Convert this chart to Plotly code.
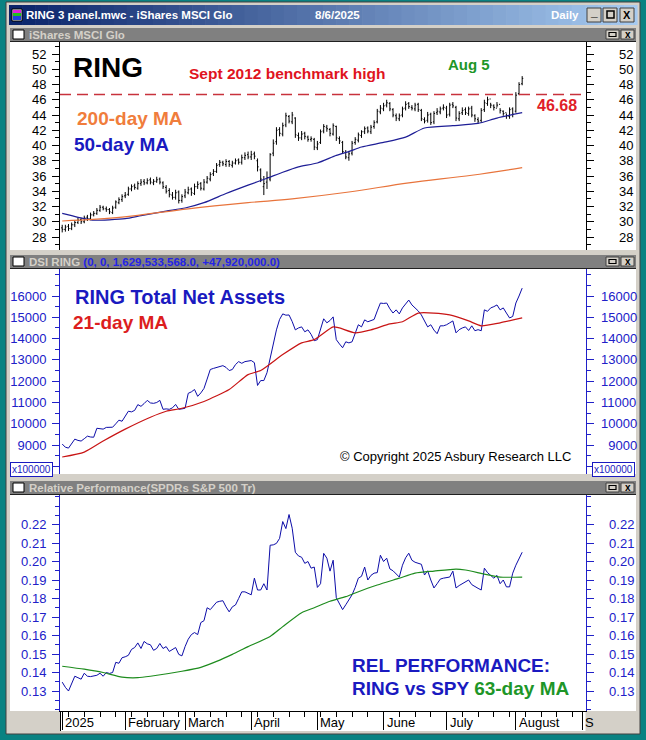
import plotly.graph_objects as go

W, H = 646, 740
SANS = "Liberation Sans, Arial, sans-serif"
NARROW = "Liberation Sans Narrow, Liberation Sans, Arial, sans-serif"

# ---------------- data ----------------
# x axis is the trading-day number, 0 = Jan 2 2025, 146 = Aug 5 2025
month_ticks = [0, 20, 39, 60, 81, 102, 122, 144, 165]
month_labels = ["2025", "February", "March", "April", "May", "June", "July", "August", "S"]

opens = [
    29.2, 29.0, 29.4, 29.1, 29.6, 29.9, 30.3, 30.0, 30.6, 30.4, 30.9, 31.1, 31.5, 31.9, 31.7, 31.6, 31.2, 31.9, 32.5, 32.9,
    33.4, 33.6, 34.3, 34.7, 34.4, 35.0, 35.3, 35.1, 35.5, 35.1, 35.3, 35.6, 35.1, 34.5, 34.1, 33.5, 33.2, 33.9, 32.8,
    33.4, 33.8, 34.3, 33.7, 34.6, 35.0, 34.3, 35.2, 35.6, 36.3, 36.6, 37.5, 37.8, 37.5, 37.9, 37.4, 37.7, 38.1, 37.8, 38.4, 38.8,
    38.5, 38.9, 38.0, 36.8, 34.6, 35.2, 35.6, 39.0, 40.5, 42.1, 41.5, 42.7, 43.8, 43.1, 43.6, 41.3, 41.0, 41.6, 41.1, 40.8, 40.8,
    39.7, 40.4, 41.9, 42.4, 42.1, 41.5, 42.5, 40.9, 40.4, 39.1, 38.4, 39.0, 40.4, 40.7, 41.3, 41.8, 42.3, 41.8, 42.5, 43.1, 44.4,
    44.8, 45.3, 45.5, 44.7, 43.9, 43.5, 44.0, 44.9, 45.5, 45.0, 44.8, 45.4, 44.6, 43.4, 43.3, 44.1, 43.1, 44.3, 44.4, 44.9,
    44.9, 44.1, 45.4, 45.0, 43.5, 44.3, 44.7, 44.2, 44.9, 43.9, 43.4, 43.3, 44.7, 45.5, 46.1, 45.2, 44.9, 45.4, 44.5, 44.3, 43.8, 44.8,
    44.5, 46.8, 48.1,
]
highs = [
    29.6, 29.6, 29.7, 29.9, 30.2, 30.5, 30.5, 30.8, 30.9, 31.2, 31.4, 31.8, 32.2, 32.1, 32.0, 31.8, 32.1, 32.8, 33.2, 33.6,
    33.9, 34.6, 34.9, 35.0, 35.3, 35.6, 35.6, 35.7, 35.8, 35.6, 35.9, 35.8, 35.3, 34.8, 34.4, 33.9, 34.2, 34.1, 33.6,
    34.3, 34.6, 34.5, 35.0, 35.3, 35.2, 35.6, 36.0, 36.5, 36.9, 37.7, 38.1, 38.0, 38.2, 38.1, 38.0, 38.3, 38.3, 38.8, 39.1, 39.2,
    39.3, 39.2, 38.3, 37.0, 36.0, 36.6, 39.0, 40.8, 42.4, 42.4, 43.0, 44.3, 44.0, 44.4, 43.7, 41.7, 41.9, 41.8, 41.3, 41.2, 41.0,
    40.6, 42.1, 42.8, 42.7, 42.3, 42.9, 42.6, 41.2, 40.6, 39.4, 39.3, 40.6, 41.1, 41.7, 42.0, 42.5, 42.5, 42.7, 43.3, 44.8, 45.3,
    45.6, 46.0, 45.7, 44.9, 44.2, 44.2, 45.1, 45.8, 45.7, 45.3, 45.6, 45.6, 44.8, 43.7, 44.4, 44.3, 44.5, 44.9, 45.1, 45.4,
    45.2, 45.6, 45.7, 45.2, 44.5, 45.0, 45.0, 45.1, 45.2, 44.1, 43.7, 44.9, 46.0, 46.4, 45.6, 45.4, 45.7, 44.9, 44.6, 44.2, 45.0, 45.0,
    47.0, 48.3, 49.1,
]
lows = [
    28.6, 28.7, 28.8, 28.9, 29.3, 29.7, 29.7, 29.8, 30.1, 30.2, 30.7, 30.9, 31.3, 31.5, 31.3, 31.0, 31.0, 31.7, 32.3, 32.6,
    33.1, 33.4, 34.0, 34.2, 34.2, 34.7, 34.8, 34.9, 34.9, 34.8, 35.1, 34.9, 34.3, 33.7, 33.2, 32.9, 32.9, 32.4, 32.5,
    33.1, 33.6, 33.4, 33.5, 34.3, 34.1, 34.1, 35.0, 35.3, 36.0, 36.4, 37.2, 37.3, 37.2, 37.2, 37.1, 37.5, 37.5, 37.5, 38.1, 38.2,
    38.1, 38.2, 36.6, 35.2, 33.5, 34.3, 35.3, 38.6, 40.1, 41.2, 41.2, 42.4, 42.9, 42.8, 41.0, 40.6, 40.7, 40.8, 40.5, 40.5, 39.4,
    39.4, 40.2, 41.6, 41.8, 41.2, 41.3, 40.6, 40.2, 38.9, 38.2, 38.0, 38.7, 40.1, 40.4, 41.0, 41.5, 41.6, 41.5, 42.2, 42.9, 44.1,
    44.5, 45.0, 44.5, 43.7, 43.2, 43.2, 43.7, 44.6, 44.8, 44.6, 44.5, 44.4, 43.2, 42.9, 43.0, 42.7, 42.8, 44.0, 44.1, 44.6,
    43.6, 43.8, 44.9, 43.2, 43.2, 44.0, 44.0, 43.9, 43.7, 43.1, 42.9, 43.0, 44.4, 45.2, 44.9, 44.6, 45.0, 44.2, 43.9, 43.5, 43.5, 43.7,
    44.3, 46.6, 47.9,
]
closes = [
    29.0, 29.3, 29.1, 29.6, 29.9, 30.2, 30.0, 30.5, 30.4, 30.9, 31.1, 31.5, 31.9, 31.7, 31.6, 31.3, 31.8, 32.6, 32.9, 33.3,
    33.5, 34.3, 34.6, 34.5, 35.0, 35.2, 35.1, 35.4, 35.2, 35.3, 35.5, 35.2, 34.6, 34.0, 33.6, 33.2, 33.8, 32.8, 33.3,
    33.9, 34.2, 33.8, 34.6, 34.9, 34.4, 35.2, 35.7, 36.2, 36.6, 37.4, 37.8, 37.6, 37.9, 37.5, 37.7, 38.0, 37.8, 38.4, 38.7, 38.5,
    38.8, 38.6, 37.2, 35.6, 35.0, 35.8, 38.8, 40.3, 42.0, 41.6, 42.6, 43.9, 43.2, 44.0, 41.4, 41.0, 41.5, 41.2, 40.8, 40.9, 39.8,
    40.2, 41.8, 42.5, 42.2, 41.6, 42.6, 41.0, 40.6, 39.2, 38.5, 38.9, 40.3, 40.8, 41.4, 41.8, 42.2, 41.9, 42.4, 43.0, 44.5, 44.9,
    45.2, 45.6, 44.8, 44.0, 43.6, 43.9, 44.8, 45.4, 45.1, 44.9, 45.3, 44.7, 43.5, 43.2, 44.0, 43.0, 44.2, 44.5, 44.8, 45.0,
    44.0, 45.3, 45.2, 43.6, 44.2, 44.6, 44.3, 44.8, 44.0, 43.5, 43.2, 44.6, 45.6, 46.0, 45.3, 45.0, 45.3, 44.6, 44.2, 43.9, 44.7, 44.1,
    46.6, 48.0, 48.8,
]

ma50_day = [0, 3, 7, 10, 20, 25, 33, 39, 45, 52, 59, 65, 70, 75, 81, 87, 91, 95, 102, 109, 115, 124, 132, 138, 146]
ma50 = [31.1, 30.8, 30.4, 30.2, 30.4, 30.8, 31.4, 31.8, 32.5, 33.7, 34.8, 35.7, 36.5, 37.2, 37.7, 38.7, 39.2, 39.8,
        40.4, 41.1, 42.3, 42.6, 42.9, 43.6, 44.3]
ma200_day = [0, 19, 40, 59, 73, 91, 110, 130, 146]
ma200 = [30.1, 30.6, 31.7, 32.5, 33.0, 33.9, 35.1, 36.1, 37.1]
benchmark_high = 46.68

# RING total net assets, in units of 100,000
tna = [
    9050, 8900, 8860, 9050, 9280, 9220, 9190, 9300, 9420, 9380,
    9370, 9790, 9760, 9750, 9830, 9850, 9840, 10000, 10170, 10120,
    10350, 10590, 10560, 10630, 10900, 10820, 10950, 11100, 10980, 10960,
    11000, 11100, 10680, 10700, 10680, 10750, 10910, 10680, 10700, 10730,
    11430, 11500, 11610, 11290, 11450, 11660, 12100, 12550, 12600, 12650,
    12690, 12730, 12650, 12500, 12550, 12780, 12920, 12840, 12920, 12950,
    12970, 12870, 11800, 12030, 12030, 12400, 13100, 13800, 14410, 14900,
    15160, 15100, 15110, 14800, 14410, 14500, 14550, 14320, 14410, 14200,
    13900, 13950, 14400, 14930, 14740, 14850, 15020, 13950, 13750, 13570,
    13850, 13800, 13850, 14300, 14650, 14550, 14880, 14790, 14850, 14900,
    15300, 15670, 15650, 15670, 15400, 15200, 15350, 15160, 15440, 15650,
    15810, 15580, 15440, 15300, 15110, 14800, 14550, 14650, 14400, 14230,
    14600, 14600, 14650, 14740, 14830, 14270, 14420, 14500, 14550, 14380,
    14600, 14370, 14420, 14370, 15350, 15280, 15440, 15500, 15580, 15350,
    15440, 15200, 14970, 15040, 15670, 16000, 16370,
]
ma21_day = [0, 7, 13, 20, 28, 33, 38, 45, 53, 59, 63, 70, 76, 80, 86, 88, 93, 98, 104, 108, 113, 118, 123, 129, 133, 139, 146]
ma21 = [8440, 8670, 9190, 9750, 10310, 10590, 10730, 11050, 11610, 12310, 12500, 13250, 13800, 13950, 14550, 14500,
        14270, 14410, 14690, 14790, 15200, 15200, 15110, 14830, 14600, 14740, 14970]

# RING relative to SPY
relperf = [
    0.1348, 0.132, 0.130, 0.134, 0.138, 0.1372, 0.1364, 0.1396, 0.138, 0.1378,
    0.138, 0.1385, 0.1396, 0.138, 0.140, 0.1395, 0.140, 0.1455, 0.1450, 0.148,
    0.1485, 0.1493, 0.1525, 0.1535, 0.156, 0.153, 0.1568, 0.1555, 0.155, 0.152,
    0.153, 0.1557, 0.153, 0.154, 0.1514, 0.1525, 0.1535, 0.1498, 0.149, 0.154,
    0.158, 0.1605, 0.1616, 0.1605, 0.167, 0.168, 0.175, 0.174, 0.176, 0.178,
    0.1785, 0.1788, 0.1755, 0.1728, 0.1755, 0.1765, 0.180, 0.1836, 0.1836, 0.183,
    0.182, 0.191, 0.1846, 0.1846, 0.188, 0.1846, 0.2088, 0.209, 0.2098, 0.2125,
    0.2216, 0.2178, 0.2254, 0.218, 0.205, 0.203, 0.2023, 0.199, 0.200, 0.1964,
    0.197, 0.186, 0.188, 0.2044, 0.2018, 0.1948, 0.2007, 0.1804, 0.177, 0.174,
    0.1766, 0.179, 0.182, 0.186, 0.191, 0.192, 0.197, 0.190, 0.1925, 0.1937,
    0.194, 0.2034, 0.200, 0.2018, 0.196, 0.195, 0.1932, 0.1916, 0.198, 0.202,
    0.2045, 0.2007, 0.1996, 0.199, 0.1985, 0.1927, 0.195, 0.190, 0.1857, 0.188,
    0.1905, 0.191, 0.1912, 0.1916, 0.1948, 0.1857, 0.187, 0.188, 0.189, 0.190,
    0.1875, 0.1863, 0.1855, 0.1846, 0.1964, 0.194, 0.1927, 0.191, 0.1925, 0.188,
    0.190, 0.1863, 0.1863, 0.1937, 0.198, 0.2015, 0.205,
]
ma63_day = [0, 7, 13, 19, 24, 28, 38, 44, 49, 54, 59, 66, 70, 76, 80, 85, 90, 93, 100, 107, 112, 118, 125, 128, 134, 139, 146]
ma63 = [0.1434, 0.1418, 0.140, 0.1375, 0.1372, 0.138, 0.1407, 0.1428, 0.146, 0.1498, 0.154, 0.1595, 0.1648, 0.1723,
        0.175, 0.1785, 0.181, 0.183, 0.1873, 0.191, 0.1937, 0.1948, 0.1959, 0.1954, 0.1932, 0.1916, 0.1916]

days = list(range(len(closes)))


# ---------------- helpers ----------------
def px(x):
    return x / W


def py(y):
    return 1 - y / H


TEAL = "#0a8282"
FACE = "#d4d0c8"
BARGRAY = "#808080"
BLUE = "#1a1ac0"
AXBLUE = "#2020c8"
X_RANGE = [-0.7, 166.1]

shapes = []
annotations = []


def rect(x0, y0, x1, y1, fill, line=None, layer="below", lw=1):
    shapes.append(dict(type="rect", xref="paper", yref="paper", x0=px(x0), x1=px(x1), y0=py(y1), y1=py(y0),
                       fillcolor=fill, line=dict(width=lw if line else 0, color=line or fill), layer=layer))


def hline(x0, x1, y, color, width=1, layer="below"):
    shapes.append(dict(type="line", xref="paper", yref="paper", x0=px(x0), x1=px(x1), y0=py(y), y1=py(y),
                       line=dict(color=color, width=width), layer=layer))


def vline(x, y0, y1, color, width=1, layer="below"):
    shapes.append(dict(type="line", xref="paper", yref="paper", x0=px(x), x1=px(x), y0=py(y0), y1=py(y1),
                       line=dict(color=color, width=width), layer=layer))


def text(t, x, y, size, color, bold=True, anchor="left", family=SANS, **kw):
    annotations.append(dict(text=f"<b>{t}</b>" if bold else t, x=px(x), y=py(y), xref="paper", yref="paper",
                            xanchor=anchor, yanchor="middle", showarrow=False,
                            font=dict(size=size, color=color, family=family), **kw))


def mix(c1, c2, t):
    a = [int(c1[i:i + 2], 16) for i in (1, 3, 5)]
    b = [int(c2[i:i + 2], 16) for i in (1, 3, 5)]
    return "#" + "".join(f"{round(a[k] + (b[k] - a[k]) * t):02x}" for k in range(3))


# ---------------- window chrome ----------------
rect(6, 2, 640, 734, FACE, "#404040")
n = 48
for k in range(n):
    x0 = 9 + (637 - 9) * k / n
    x1 = 9 + (637 - 9) * (k + 1) / n + 0.6
    rect(x0, 5, x1, 25, mix("#0a246a", "#a6caf0", k / (n - 1)))
# little app icon
rect(12, 9, 22, 21, "#ffffff", "#000000")
rect(13, 10, 21, 13, "#e020e0")
rect(13, 13, 21, 16, "#20c020")
rect(13, 16, 21, 20, "#2040e0")
# title buttons
for bx in (587, 603, 620):
    rect(bx, 8, bx + 14, 22, FACE, "#404040")
rect(607, 11, 614, 18, "rgba(0,0,0,0)", "#000000", lw=1.5)
text("_", 594, 12, 12, "#000000", anchor="center")
text("X", 627, 15, 11, "#000000", anchor="center")
text("RING 3 panel.mwc - iShares MSCI Glo", 24, 15, 11.5, "#ffffff", family=NARROW)
text("8/6/2025", 337, 15, 11.5, "#ffffff", anchor="center", family=NARROW)
text("Daily", 581, 15, 11.5, "#ffffff", anchor="right", family=NARROW)

# panels: title bar + white body
panel_bars = [(28, 41), (255, 268), (481, 494)]
panel_bodies = [(41, 250), (268, 474), (494, 711)]
for (t0, t1), (b0, b1) in zip(panel_bars, panel_bodies):
    rect(10, t0, 636, t1, BARGRAY)
    rect(10, b0, 636, b1, "#ffffff")
    hline(10, 636, b0 + 0.5, "#202020")
    rect(13, t0 + 2, 24, t1 - 2, "#ffffff", "#000000")
    for bx in (606, 621):
        rect(bx, t0 + 2, bx + 13, t1 - 2, FACE, "#404040")
    rect(609, t0 + 4.5, 616, t1 - 4.5, "rgba(0,0,0,0)", "#000000", lw=1.2)
    text("x", 627.5, (t0 + t1) / 2, 10, "#000000", anchor="center")
# date row
rect(60, 711, 585.5, 731, "#ffffff")
vline(60.5, 711, 731, "#000000")

text("iShares MSCI Glo", 27, 35, 11.5, FACE, family=NARROW)
text("DSI RING <span style='color:#2424e6'>(0, 0, 1,629,533,568.0, +47,920,000.0)</span>", 27, 262, 11.5, FACE,
     family=NARROW)
text("Relative Performance(SPDRs S&amp;P 500 Tr)", 27, 488, 11.5, FACE, family=NARROW)

# ---------------- chart text ----------------
text("RING", 71, 68, 28, "#000000")
text("Sept 2012 benchmark high", 187, 74, 15.5, "#e0141e")
text("Aug 5", 446, 64, 15, "#1e9628")
text("46.68", 535, 105, 16, "#e01e28")
text("200-day MA", 75, 118, 19, "#f07d3c")
text("50-day MA", 72, 144, 19, BLUE)
text("RING Total Net Assets", 73, 297, 20, BLUE)
text("21-day MA", 71, 322, 19, "#dc1e1e")
text("© Copyright 2025 Asbury Research LLC", 338, 456, 13, "#000000", bold=False)
text("REL PERFORMANCE:", 350, 665, 19, BLUE)
text("RING vs SPY <span style='color:#1e9628'>63-day MA</span>", 350, 688, 19, BLUE)
for bx in (31, 613):
    text("x100000", bx, 469, 10, BLUE, bold=False, anchor="center", bgcolor="#ffffff", bordercolor=BLUE,
         borderwidth=1, borderpad=1)

for tv, lab in zip(month_ticks, month_labels):
    annotations.append(dict(text=lab, x=tv, y=py(722), xref="x3", yref="paper", xanchor="left", yanchor="middle",
                            xshift=1, showarrow=False, font=dict(size=13, color="#000000", family=SANS)))

# benchmark dashed line
shapes.append(dict(type="line", xref="x domain", yref="y", x0=0, x1=0.995, y0=benchmark_high, y1=benchmark_high,
                   line=dict(color="#c8323c", width=1.5, dash="11px,6px"), layer="above"))

# ---------------- traces ----------------
fig = go.Figure()
fig.add_trace(go.Ohlc(x=days, open=opens, high=highs, low=lows, close=closes, xaxis="x", yaxis="y",
                      increasing_line_color="#000000", decreasing_line_color="#000000",
                      line_width=1, tickwidth=0.35, hoverinfo="skip"))
fig.add_trace(go.Scatter(x=ma200_day, y=ma200, mode="lines", xaxis="x", yaxis="y2",
                         line=dict(color="#e8743c", width=1.2, shape="spline")))
fig.add_trace(go.Scatter(x=ma50_day, y=ma50, mode="lines", xaxis="x", yaxis="y",
                         line=dict(color="#1e1e96", width=1.2, shape="spline", smoothing=0.6)))
fig.add_trace(go.Scatter(x=days, y=tna, mode="lines", xaxis="x2", yaxis="y3",
                         line=dict(color="#0c0ca8", width=1)))
fig.add_trace(go.Scatter(x=ma21_day, y=ma21, mode="lines", xaxis="x2", yaxis="y4",
                         line=dict(color="#c81414", width=1.2, shape="spline", smoothing=0.6)))
fig.add_trace(go.Scatter(x=days, y=relperf, mode="lines", xaxis="x3", yaxis="y5",
                         line=dict(color="#0c0ca8", width=1)))
fig.add_trace(go.Scatter(x=ma63_day, y=ma63, mode="lines", xaxis="x3", yaxis="y6",
                         line=dict(color="#1e8c1e", width=1.2, shape="spline", smoothing=0.6)))

# ---------------- axes ----------------
xdom = [px(60), px(585.5)]
hidden_x = dict(domain=xdom, range=X_RANGE, showticklabels=False, ticks="", showline=False, showgrid=False,
                zeroline=False, fixedrange=True)


def yax(dom, rng, vals, labels, minor_step, color, side, standoff, overlay=None, anchor="x"):
    d = dict(range=rng, tickmode="array", tickvals=vals, ticktext=labels, ticks="outside", ticklen=7,
             tickcolor=color, tickwidth=1, showline=True, linecolor=color, linewidth=1, showgrid=False,
             zeroline=False, side=side, anchor=anchor, ticklabelstandoff=standoff,
             tickfont=dict(size=13, color=color, family=SANS), fixedrange=True,
             minor=dict(tickmode="linear", tick0=0, dtick=minor_step, ticks="outside", ticklen=4,
                        tickcolor=color, showgrid=False))
    if overlay:
        d["overlaying"] = overlay
    else:
        d["domain"] = dom
    return d


p1 = [py(250), py(42)]
p2 = [py(474), py(269)]
p3 = [py(711), py(495)]
r1 = [26.295, 53.574]
r2 = [7643, 17268]
r3 = [0.1192, 0.23595]

v1 = list(range(28, 53, 2))
v2 = list(range(8000, 16001, 1000))
v3 = [0.13, 0.14, 0.15, 0.16, 0.17, 0.18, 0.19, 0.20, 0.21, 0.22]
t1 = [str(v) for v in v1]
# the 8000 label sits under the x100000 box in the reference
t2_left = ["" if v == 8000 else str(v) for v in v2]
t2_right = ["" if v == 8000 else ("\u00a0\u00a0" if v < 10000 else "") + str(v) for v in v2]
t3 = [f"{v:.2f}" for v in v3]

fig.update_layout(
    width=W, height=H, autosize=False,
    margin=dict(l=0, r=0, t=0, b=0),
    paper_bgcolor=TEAL, plot_bgcolor="#ffffff",
    showlegend=False, hovermode=False,
    xaxis=dict(hidden_x, anchor="y", rangeslider=dict(visible=False)),
    xaxis2=dict(hidden_x, anchor="y3"),
    xaxis3=dict(domain=xdom, range=X_RANGE, anchor="y5", showline=True, linecolor="#000000", linewidth=1,
                ticks="outside", tickmode="array", tickvals=month_ticks, ticklen=18, tickcolor="#000000",
                showticklabels=False, showgrid=False, zeroline=False, fixedrange=True,
                minor=dict(tickmode="linear", tick0=2, dtick=5, ticks="outside", ticklen=5, tickcolor="#000000")),
    yaxis=yax(p1, r1, v1, t1, 1, "#000000", "left", 3),
    yaxis2=yax(p1, r1, v1, t1, 1, "#000000", "right", 23, overlay="y"),
    yaxis3=yax(p2, r2, v2, t2_left, 500, AXBLUE, "left", 3, anchor="x2"),
    yaxis4=yax(p2, r2, v2, t2_right, 500, AXBLUE, "right", 5, overlay="y3", anchor="x2"),
    yaxis5=yax(p3, r3, v3, t3, 0.005, AXBLUE, "left", 3, anchor="x3"),
    yaxis6=yax(p3, r3, v3, t3, 0.005, AXBLUE, "right", 13, overlay="y5", anchor="x3"),
    shapes=shapes,
    annotations=annotations,
)

fig.write_html("out.html", config={"displayModeBar": False},
               post_script="document.body.style.margin='0';document.body.style.overflow='hidden';")
